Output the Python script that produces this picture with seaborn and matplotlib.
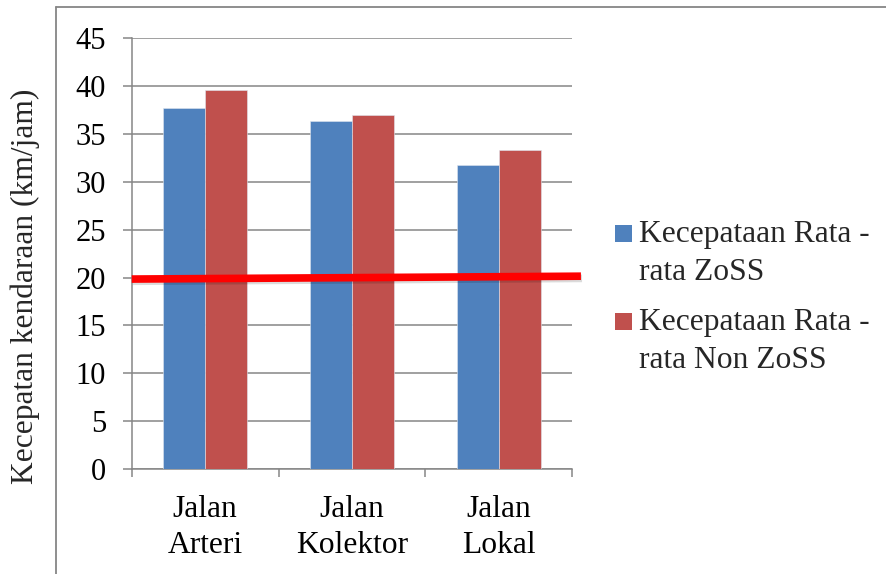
import matplotlib
matplotlib.use("Agg")
import matplotlib.pyplot as plt
import matplotlib.patheffects as pe
from matplotlib.lines import Line2D
from matplotlib.patches import Rectangle
from matplotlib.legend_handler import HandlerPatch
import seaborn as sns
import pandas as pd

categories = ["Jalan\nArteri", "Jalan\nKolektor", "Jalan\nLokal"]
series_names = ["Kecepataan Rata -\nrata ZoSS", "Kecepataan Rata -\nrata Non ZoSS"]
zoss = [37.7, 36.4, 31.8]
non_zoss = [39.6, 37.0, 33.3]
threshold_x = [-0.5, 2.56]
threshold_y = [19.85, 20.15]
y_ticks = [0, 5, 10, 15, 20, 25, 30, 35, 40, 45]
colors = ["#4F81BD", "#C0504D"]

df = pd.DataFrame({
    "cat": categories * 2,
    "series": [series_names[0]] * 3 + [series_names[1]] * 3,
    "val": zoss + non_zoss,
})

sns.set_theme(style="white")
plt.rcParams["font.family"] = ["Liberation Serif", "DejaVu Serif"]

FS = 22.7
TFS = 22.0
LEG_LS = 1.41


class TopSquare(HandlerPatch):
    """Square legend key aligned with the first line of a two-line label."""
    def create_artists(self, legend, orig_handle, xdescent, ydescent,
                       width, height, fontsize, trans):
        s = 0.54 * fontsize
        pitch = 0.85 * LEG_LS * fontsize
        y0 = 0.11 * fontsize + pitch / 2.0
        r = Rectangle((-xdescent, y0), s, s,
                      facecolor=orig_handle.get_facecolor(), edgecolor="none",
                      transform=trans)
        return [r]


fig = plt.figure(figsize=(8.87, 5.74), dpi=100)
ax = fig.add_axes([0.1485, 0.183, 0.4965, 0.750])

grid_c = "#868686"
sns.barplot(data=df, x="cat", y="val", hue="series", order=categories,
            hue_order=series_names, palette=colors, saturation=1,
            width=0.57, gap=0, ax=ax, edgecolor="#dfe6ef", linewidth=0.4,
            zorder=3, legend=False)

ax.set_ylim(0, 45)
ax.set_xlim(-0.5, 2.5)
ax.set_yticks(y_ticks)
ax.set_yticklabels([str(v) for v in y_ticks], fontsize=TFS)
ax.yaxis.grid(True, color=grid_c, linewidth=1.1, zorder=0)
ax.set_axisbelow(True)
ax.tick_params(axis="y", length=6.5, width=1.1, color=grid_c, direction="out",
               left=True, pad=12, labelcolor="black")

ax.set_xticks([-0.5, 0.5, 1.5, 2.5])
ax.set_xticklabels([])
ax.set_xticks([0, 1, 2], minor=True)
ax.set_xticklabels(categories, minor=True, fontsize=FS, linespacing=1.32)
ax.tick_params(axis="x", which="major", length=6, width=1.1, color=grid_c,
               direction="out", bottom=True)
ax.tick_params(axis="x", which="minor", length=0, pad=19, labelcolor="black")
ax.set_xlabel("")
ax.set_ylabel("")

for s in ["top", "right"]:
    ax.spines[s].set_visible(False)
for s in ["left", "bottom"]:
    ax.spines[s].set_color(grid_c)
    ax.spines[s].set_linewidth(1.1)

ax.plot(threshold_x, threshold_y, color="#FF0000", linewidth=5.5,
        solid_capstyle="butt", clip_on=False, zorder=5,
        path_effects=[pe.SimpleLineShadow(offset=(0.8, -1.6), shadow_color="black", alpha=0.14),
                      pe.Normal()])

handles = [Rectangle((0, 0), 1, 1, facecolor=c) for c in colors]
leg = ax.legend(handles, series_names, loc="upper left",
                bbox_to_anchor=(615 / 887, 1 - 220 / 574),
                bbox_transform=fig.transFigure, frameon=False, fontsize=FS,
                handlelength=0.54, handleheight=0.7, handletextpad=0.22,
                labelspacing=0.66, borderpad=0, borderaxespad=0,
                handler_map={Rectangle: TopSquare()})
for t in leg.get_texts():
    t.set_linespacing(LEG_LS)

fig.text(0.028, 0.5005, "Kecepatan kendaraan (km/jam)", rotation=90,
         fontsize=FS, ha="center", va="center")

fig.add_artist(Line2D([56 / 887, 1.0], [1 - 7 / 574, 1 - 7 / 574],
                      color=grid_c, linewidth=1.3, transform=fig.transFigure))
fig.add_artist(Line2D([56 / 887, 56 / 887], [0, 1 - 7 / 574],
                      color=grid_c, linewidth=1.3, transform=fig.transFigure))

fig.savefig("out.png", dpi=100, facecolor="white")
